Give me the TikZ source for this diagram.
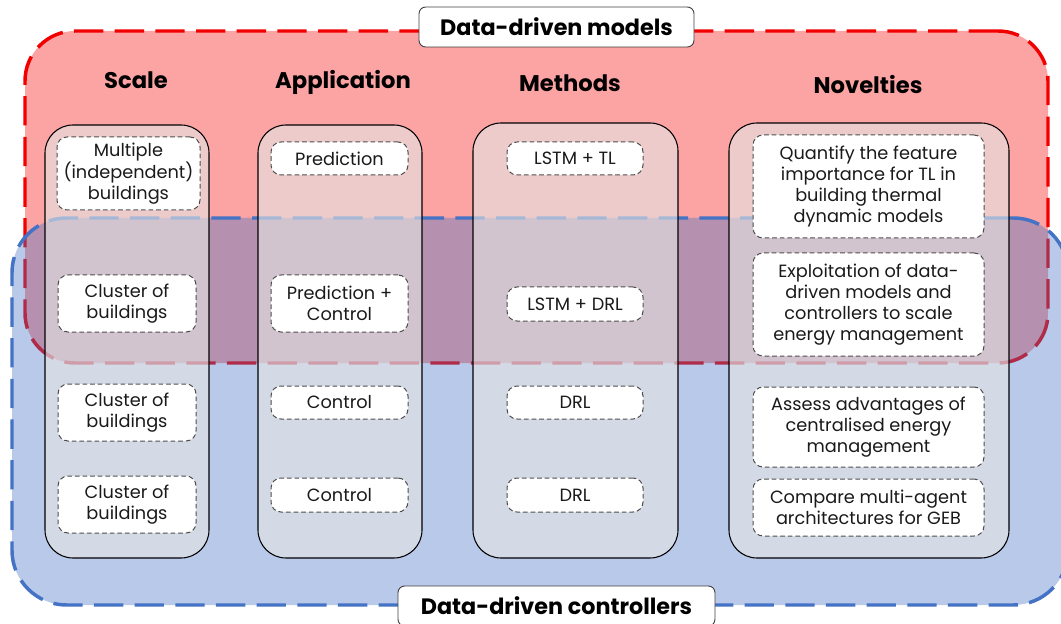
\documentclass[tikz,border=0pt]{standalone}
\usepackage{fontspec}
\setmainfont{Poppins}
\definecolor{redfill}{HTML}{FCA3A3}
\definecolor{redline}{HTML}{F20000}
\definecolor{blueline}{HTML}{4472C4}
\definecolor{colfill}{HTML}{E4E4E4}
\definecolor{boxline}{HTML}{4D4D4D}
\definecolor{txt}{HTML}{1A1A1A}
\tikzset{
  wh/.style 2 args={minimum width=#1*0.75pt, minimum height=#2*0.75pt},
  region/.style={inner sep=0pt, outer sep=0pt, line width=2.6pt,
    dash pattern=on 22pt off 8.5pt},
  modelregion/.style={region, draw=redline, fill=redfill, rounded corners=37.5pt},
  ctrlregion/.style={region, draw=blueline, fill=blueline, fill opacity=0.38,
    draw opacity=1, rounded corners=41pt},
  column/.style={inner sep=0pt, outer sep=0pt, draw=black, line width=0.8pt,
    fill=colfill, fill opacity=0.62, draw opacity=1, rounded corners=21pt},
  item/.style={inner sep=0pt, outer sep=0pt, draw=boxline, fill=white,
    line width=0.75pt, dash pattern=on 3.5pt off 2.2pt, rounded corners=7.5pt,
    align=center, text=txt, font=\fontsize{13.3}{15.8}\selectfont},
  heading/.style={anchor=base, font=\fontsize{17}{20}\selectfont\bfseries, text=black},
  tag/.style={inner sep=0pt, outer sep=0pt, draw=black!75, fill=white,
    line width=0.7pt, rounded corners=5pt,
    font=\fontsize{16.7}{19}\selectfont\bfseries, text=black},
}
\begin{document}
\begin{tikzpicture}[x=0.75pt, y=-0.75pt]
\useasboundingbox (0,0) rectangle (1061,624);

% overlapping scopes of the two families of approaches
\node[modelregion, wh={1023}{332}] (models) at (536.5,197) {};
\node[ctrlregion, wh={1056}{387}] (ctrls) at (540,411.5) {};

% four columns
\node[column, wh={164}{433}] (colscale) at (127,341.5) {};
\node[column, wh={164}{433}] (colapp) at (340,341.5) {};
\node[column, wh={205}{435}] (colmeth) at (575.5,340.5) {};
\node[column, wh={280}{435}] (colnov) at (869,340.5) {};

% column headings
\node[heading] (hscale) at (136,89) {Scale};
\node[heading] (happ) at (343,89) {Application};
\node[heading] (hmeth) at (570,92) {Methods};
\node[heading] (hnov) at (868,94) {Novelties};

% scale
\node[item, wh={143}{73}] (s1) at (128.5,173.5) {Multiple\\(independent)\\buildings};
\node[item, wh={138}{57}] (s2) at (127,303.5) {Cluster of\\buildings};
\node[item, wh={138}{57}] (s3) at (127,412.5) {Cluster of\\buildings};
\node[item, wh={138}{57}] (s4) at (127,504.5) {Cluster of\\buildings};

% application
\node[item, wh={137}{33}] (a1) at (339.5,158.5) {Prediction};
\node[item, wh={137}{57}] (a2) at (339.5,303.5) {Prediction +\\Control};
\node[item, wh={137}{33}] (a3) at (339.5,402.5) {Control};
\node[item, wh={137}{34}] (a4) at (339.5,495) {Control};

% methods
\node[item, wh={136}{33}] (m1) at (575,158.5) {LSTM + TL};
\node[item, wh={136}{34}] (m2) at (575,304) {LSTM + DRL};
\node[item, wh={136}{33}] (m3) at (575,402.5) {DRL};
\node[item, wh={136}{34}] (m4) at (575,495) {DRL};

% novelties
\node[item, wh={231}{103}] (n1) at (868.5,186.5) {Quantify the feature\\importance for TL in\\building thermal\\dynamic models};
\node[item, wh={231}{103}] (n2) at (868.5,304.5) {Exploitation of data-\\driven models and\\controllers to scale\\energy management};
\node[item, wh={231}{80}] (n3) at (868.5,427) {Assess advantages of\\centralised energy\\management};
\node[item, wh={231}{57}] (n4) at (868.5,507.5) {Compare multi-agent\\architectures for GEB};

% region labels
\node[tag, wh={275}{40}] (lmodels) at (556.5,27) {Data-driven models};
\node[tag, wh={317}{40}] (lctrls) at (556.5,606) {Data-driven controllers};
\end{tikzpicture}
\end{document}
